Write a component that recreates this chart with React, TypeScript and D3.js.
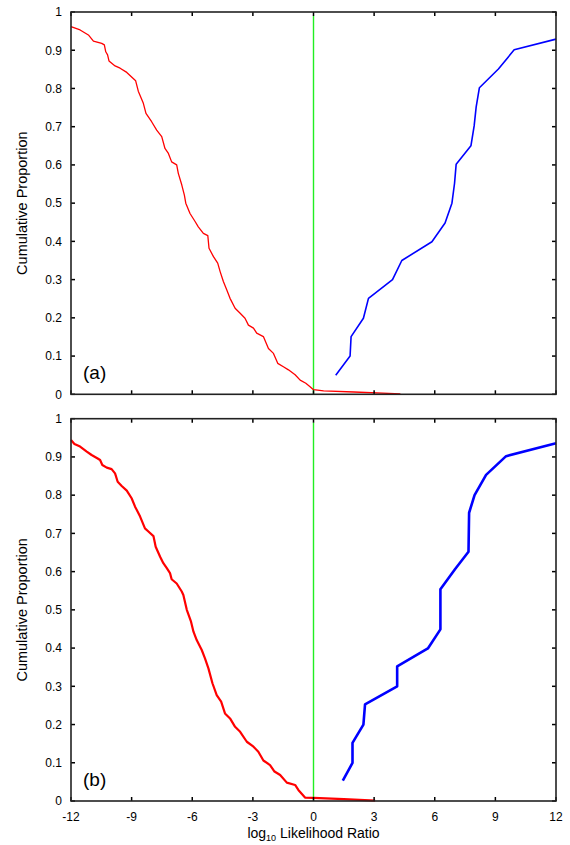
import React from "react";
import * as d3 from "d3";

// ---------- data ----------
const xTicks = [-12, -9, -6, -3, 0, 3, 6, 9, 12];
const yTicks = [0, 0.1, 0.2, 0.3, 0.4, 0.5, 0.6, 0.7, 0.8, 0.9, 1];
const yTickLabels = ["0", "0.1", "0.2", "0.3", "0.4", "0.5", "0.6", "0.7", "0.8", "0.9", "1"];
const panelLabels = ["(a)", "(b)"];

// panel (a) red curve [log10 LR, proportion]
const redA: [number, number][] = [
  [-12.0, 0.962], [-11.55, 0.953], [-11.14, 0.94], [-10.89, 0.924], [-10.48, 0.918],
  [-10.35, 0.914], [-10.28, 0.896], [-10.19, 0.888], [-10.12, 0.872], [-9.82, 0.859],
  [-9.57, 0.853], [-9.24, 0.842], [-9.08, 0.834], [-8.8, 0.82], [-8.67, 0.793],
  [-8.42, 0.761], [-8.29, 0.735], [-8.01, 0.713], [-7.76, 0.691], [-7.51, 0.674],
  [-7.35, 0.643], [-7.18, 0.63], [-7.02, 0.608], [-6.77, 0.6], [-6.69, 0.578],
  [-6.52, 0.548], [-6.39, 0.521], [-6.32, 0.5], [-6.11, 0.473], [-5.86, 0.452],
  [-5.7, 0.438], [-5.45, 0.421], [-5.23, 0.415], [-5.17, 0.382], [-4.95, 0.36],
  [-4.74, 0.343], [-4.62, 0.321], [-4.46, 0.295], [-4.29, 0.273], [-4.13, 0.251],
  [-3.88, 0.225], [-3.63, 0.212], [-3.39, 0.199], [-3.22, 0.181], [-2.97, 0.173],
  [-2.81, 0.16], [-2.48, 0.151], [-2.23, 0.12], [-1.98, 0.107], [-1.77, 0.081],
  [-1.49, 0.072], [-1.24, 0.064], [-0.91, 0.051], [-0.66, 0.037], [-0.38, 0.029],
  [-0.17, 0.02], [0.0, 0.012], [0.5, 0.009], [2.0, 0.006], [4.3, 0.001],
];

// panel (a) blue curve
const blueA: [number, number][] = [
  [1.1, 0.05], [1.81, 0.1], [1.86, 0.151], [2.47, 0.199], [2.72, 0.251],
  [3.91, 0.3], [4.37, 0.35], [5.86, 0.399], [6.51, 0.448], [6.85, 0.5],
  [6.98, 0.552], [7.06, 0.602], [7.79, 0.65], [7.95, 0.702], [8.05, 0.752],
  [8.21, 0.802], [9.15, 0.851], [9.93, 0.901], [12.0, 0.929],
];

// panel (b) red curve
const redB: [number, number][] = [
  [-12.0, 0.944], [-11.83, 0.934], [-11.55, 0.927], [-11.22, 0.914], [-10.98, 0.905],
  [-10.68, 0.896], [-10.56, 0.892], [-10.45, 0.879], [-10.23, 0.872], [-9.99, 0.868],
  [-9.82, 0.857], [-9.69, 0.835], [-9.49, 0.824], [-9.24, 0.812], [-9.0, 0.792],
  [-8.83, 0.77], [-8.58, 0.744], [-8.34, 0.713], [-8.17, 0.705], [-7.92, 0.693],
  [-7.81, 0.665], [-7.59, 0.639], [-7.43, 0.622], [-7.26, 0.609], [-7.1, 0.596],
  [-7.02, 0.58], [-6.77, 0.569], [-6.52, 0.548], [-6.44, 0.539], [-6.27, 0.5],
  [-6.06, 0.469], [-5.94, 0.443], [-5.78, 0.421], [-5.53, 0.395], [-5.37, 0.373],
  [-5.2, 0.347], [-5.0, 0.308], [-4.79, 0.277], [-4.57, 0.26], [-4.38, 0.229],
  [-4.13, 0.216], [-3.88, 0.194], [-3.63, 0.181], [-3.3, 0.155], [-2.97, 0.142],
  [-2.73, 0.129], [-2.48, 0.106], [-2.15, 0.094], [-1.93, 0.077], [-1.65, 0.068],
  [-1.32, 0.048], [-0.91, 0.042], [-0.75, 0.029], [-0.42, 0.009], [0.0, 0.008],
  [1.5, 0.005], [3.05, 0.001],
];

// panel (b) blue curve
const blueB: [number, number][] = [
  [1.45, 0.053], [1.93, 0.1], [1.93, 0.152], [2.47, 0.2], [2.55, 0.253],
  [4.14, 0.3], [4.14, 0.352], [5.66, 0.399], [6.28, 0.449], [6.28, 0.554],
  [7.01, 0.607], [7.67, 0.652], [7.7, 0.754], [7.97, 0.8], [8.54, 0.853],
  [9.53, 0.902], [12.0, 0.936],
];

// green reference line at log10 LR = 0
const greenLine: [number, number][] = [[0, 0], [0, 0.99]];

// ---------- layout ----------
const W = 570;
const H = 845;
const left = 71;
const right = 556;
const panelTops = [12, 418.7];
const panelH = 382.3;
const FONT = "'Liberation Sans', Arial, sans-serif";

const x = d3.scaleLinear().domain([-12, 12]).range([left, right]);

type PanelProps = {
  top: number;
  red: [number, number][];
  blue: [number, number][];
  label: string;
  showX: boolean;
  redW: number;
  blueW: number;
};

function Panel({ top, red, blue, label, showX, redW, blueW }: PanelProps) {
  const y = d3.scaleLinear().domain([0, 1]).range([top + panelH, top]);
  const line = d3
    .line<[number, number]>()
    .x((d) => x(d[0]))
    .y((d) => y(d[1]));
  const tl = 4;
  const bottom = top + panelH;
  return (
    <g>
      <path d={line(greenLine) || ""} stroke="#22ee22" strokeWidth={1.4} fill="none" />
      <path d={line(red) || ""} stroke="#ff0000" strokeWidth={redW} fill="none" strokeLinejoin="round" />
      <path d={line(blue) || ""} stroke="#0000ff" strokeWidth={blueW} fill="none" strokeLinejoin="round" />
      {xTicks.map((t) => (
        <g key={"xt" + t}>
          <line x1={x(t)} x2={x(t)} y1={bottom} y2={bottom - tl} stroke="#000" strokeWidth={1.5} />
          <line x1={x(t)} x2={x(t)} y1={top} y2={top + tl} stroke="#000" strokeWidth={1.5} />
          {showX && (
            <text x={x(t)} y={bottom + 20} fontSize={12} fontFamily={FONT} textAnchor="middle" fill="#000">
              {t}
            </text>
          )}
        </g>
      ))}
      {yTicks.map((t, i) => (
        <g key={"yt" + t}>
          <line x1={left} x2={left + tl} y1={y(t)} y2={y(t)} stroke="#000" strokeWidth={1.5} />
          <line x1={right} x2={right - tl} y1={y(t)} y2={y(t)} stroke="#000" strokeWidth={1.5} />
          <text x={62} y={y(t) + 4.3} fontSize={12} fontFamily={FONT} textAnchor="end" fill="#000">
            {yTickLabels[i]}
          </text>
        </g>
      ))}
      <rect x={left} y={top} width={right - left} height={panelH} fill="none" stroke="#222" strokeWidth={1.6} />
      <text x={83} y={bottom - 15.5} fontSize={19} fontFamily={FONT} fill="#000">
        {label}
      </text>
      <text
        transform={`translate(27, ${top + panelH / 2}) rotate(-90)`}
        fontSize={14.5}
        fontFamily={FONT}
        textAnchor="middle"
        fill="#000"
      >
        Cumulative Proportion
      </text>
    </g>
  );
}

export default function App() {
  return (
    <svg
      width={W}
      height={H}
      style={{ position: "absolute", left: 0, top: 0, background: "#fff" }}
    >
      <rect width={W} height={H} fill="#fff" />
      <Panel top={panelTops[0]} red={redA} blue={blueA} label={panelLabels[0]} showX={false} redW={1.3} blueW={1.6} />
      <Panel top={panelTops[1]} red={redB} blue={blueB} label={panelLabels[1]} showX={true} redW={2.2} blueW={2.6} />
      <text x={(left + right) / 2} y={838} fontSize={14} fontFamily={FONT} textAnchor="middle" fill="#000">
        log
        <tspan fontSize={9} dy={2.5}>10</tspan>
        <tspan dy={-2.5}> Likelihood Ratio</tspan>
      </text>
    </svg>
  );
}
